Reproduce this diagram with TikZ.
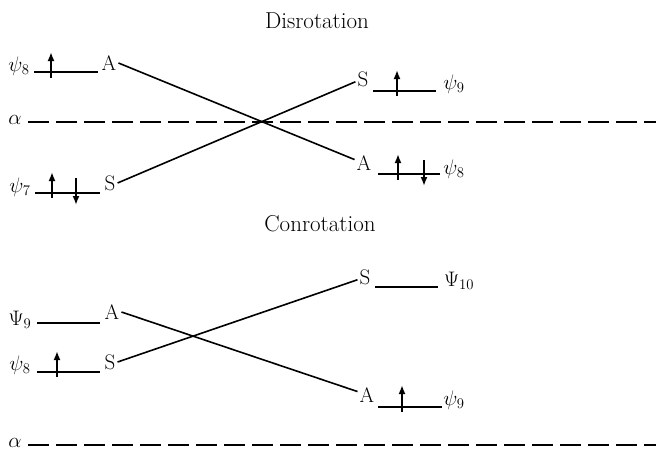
\RequirePackage{fix-cm}
\documentclass[tikz,border=0pt]{standalone}
\usepackage{fontspec}
\usetikzlibrary{arrows.meta}
\begin{document}
\begin{tikzpicture}[x=1pt,y=-1pt,
  lbl/.style={font=\fontsize{21}{24}\selectfont, inner sep=2pt},
  ttl/.style={font=\fontsize{23}{26}\selectfont, anchor=base},
  lev/.style={line width=2.2pt},
  conn/.style={line width=1.6pt},
  alphaline/.style={line width=2.8pt, dash pattern=on 21pt off 7pt},
  uparr/.style={line width=2pt, -{Latex[length=9pt,width=7pt]}},
]
\useasboundingbox (0,0) rectangle (656,451);

% ---------- Disrotation ----------
\node[ttl] (t1) at (317,28) {Disrotation};

\node[lbl] (dal) at (15,120) {$\alpha$};
\coordinate (da1) at (28,122);
\coordinate (da2) at (656,122);
\draw[alphaline] (da1) -- (da2);

% left upper: psi8, A
\node[lbl] (dp8) at (19,66) {$\psi_8$};
\node[lbl] (dA1) at (109,63) {A};
\draw[lev] (34,72) -- (98,72);
\draw[uparr] (51,78) -- (51,52);

% left lower: psi7, S
\node[lbl] (dp7) at (20,187) {$\psi_7$};
\node[lbl] (dS1) at (110,183) {S};
\draw[lev] (35,193) -- (100,193);
\draw[uparr] (52,198) -- (52,172);
\draw[uparr] (76,178) -- (76,205);

% right upper: S, psi9
\node[lbl] (dS2) at (363,79) {S};
\node[lbl] (dp9) at (454,84) {$\psi_9$};
\draw[lev] (373,91) -- (436,91);
\draw[uparr] (397,96) -- (397,70);

% right lower: A, psi8
\node[lbl] (dA2) at (364,163) {A};
\node[lbl] (dp8r) at (454,169) {$\psi_8$};
\draw[lev] (378,174) -- (440,174);
\draw[uparr] (398,180) -- (398,154);
\draw[uparr] (424,160) -- (424,186);

% correlation lines
\draw[conn] (dA1.east) -- (dA2.160);
\draw[conn] (dS1.east) -- (dS2.200);

% ---------- Conrotation ----------
\node[ttl] (t2) at (320,231) {Conrotation};

% left upper: Psi9, A
\node[lbl] (cP9) at (20,320) {$\Psi_9$};
\node[lbl] (cA1) at (112,312) {A};
\draw[lev] (37,323) -- (100,323);

% left lower: psi8, S
\node[lbl] (cp8) at (20,365) {$\psi_8$};
\node[lbl] (cS1) at (110,362) {S};
\draw[lev] (37,372) -- (100,372);
\draw[uparr] (57,377) -- (57,351);

% right upper: S, Psi10
\node[lbl] (cS2) at (365,277) {S};
\node[lbl] (cP10) at (459,281) {$\Psi_{10}$};
\draw[lev] (375,287) -- (438,287);

% right lower: A, psi9
\node[lbl] (cA2) at (367,395) {A};
\node[lbl] (cp9) at (454,400) {$\psi_9$};
\draw[lev] (378,407) -- (442,407);
\draw[uparr] (402,412) -- (402,385);

% correlation lines
\draw[conn] (cA1.east) -- (cA2.160);
\draw[conn] (cS1.east) -- (cS2.200);

% alpha line
\node[lbl] (cal) at (15,443) {$\alpha$};
\coordinate (ca1) at (28,445);
\coordinate (ca2) at (656,445);
\draw[alphaline] (ca1) -- (ca2);
\end{tikzpicture}
\end{document}
